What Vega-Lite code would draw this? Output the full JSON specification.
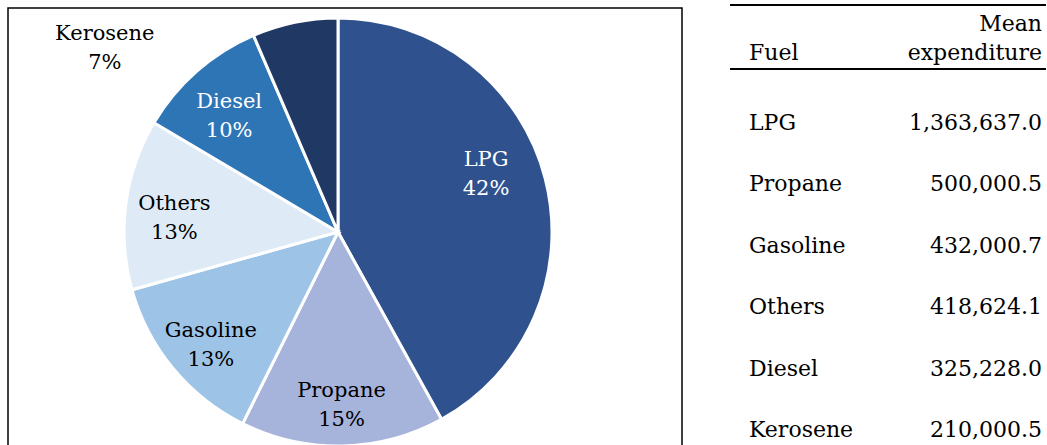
{
  "$schema": "https://vega.github.io/schema/vega-lite/v6.json",
  "usermeta": {"embedOptions": {"actions": false}},
  "padding": {"left": 7, "top": 4, "right": 0, "bottom": 0},
  "background": "white",
  "config": {
    "font": "DejaVu Serif",
    "view": {"stroke": null},
    "text": {"fontSize": 21, "font": "DejaVu Serif"}
  },
  "datasets": {
    "fuels": [
      {"fuel": "LPG", "expenditure": 1363637.0, "share": 42},
      {"fuel": "Propane", "expenditure": 500000.5, "share": 15},
      {"fuel": "Gasoline", "expenditure": 432000.7, "share": 13},
      {"fuel": "Others", "expenditure": 418624.1, "share": 13},
      {"fuel": "Diesel", "expenditure": 325228.0, "share": 10},
      {"fuel": "Kerosene", "expenditure": 210000.5, "share": 7}
    ]
  },
  "spacing": 46,
  "hconcat": [
    {
      "width": 674,
      "height": 448,
      "view": {"stroke": "black", "strokeWidth": 1.5},
      "data": {"name": "fuels"},
      "transform": [
        {"calculate": "datum.fuel + '\\n' + datum.share + '%'", "as": "label"}
      ],
      "encoding": {
        "theta": {"field": "expenditure", "type": "quantitative", "stack": true},
        "order": {"field": "expenditure", "type": "quantitative", "sort": "descending"}
      },
      "layer": [
        {
          "mark": {"type": "arc", "outerRadius": 214, "stroke": "white", "strokeWidth": 3, "xOffset": -7},
          "encoding": {
            "color": {
              "field": "fuel",
              "type": "nominal",
              "scale": {
                "domain": ["LPG", "Propane", "Gasoline", "Others", "Diesel", "Kerosene"],
                "range": ["#2F528F", "#A6B4DB", "#9DC3E6", "#DEEBF7", "#2E75B6", "#203864"]
              },
              "legend": null
            }
          }
        },
        {
          "mark": {"type": "text", "radius": 165, "lineBreak": "\n", "lineHeight": 29, "align": "center", "baseline": "middle", "xOffset": -7, "dy": -6},
          "encoding": {
            "text": {"condition": {"test": "datum.fuel == 'Kerosene' || datum.fuel == 'LPG'", "value": ""}, "field": "label"},
            "color": {"condition": {"test": "datum.fuel == 'Diesel'", "value": "white"}, "value": "black"}
          }
        },
        {
          "transform": [
            {"stack": "expenditure", "groupby": [], "sort": [{"field": "expenditure", "order": "descending"}], "as": ["k0", "k1"]},
            {"filter": "datum.fuel == 'LPG'"}
          ],
          "mark": {"type": "text", "radius": 159, "thetaOffset": 1.198, "lineBreak": "\n", "lineHeight": 29, "align": "center", "baseline": "middle", "xOffset": -7, "dy": -14.5, "color": "white"},
          "encoding": {
            "theta": {"field": "k0", "type": "quantitative", "stack": null},
            "text": {"field": "label"}
          }
        },
        {
          "transform": [
            {"stack": "expenditure", "groupby": [], "sort": [{"field": "expenditure", "order": "descending"}], "as": ["k0", "k1"]},
            {"filter": "datum.fuel == 'Kerosene'"}
          ],
          "mark": {"type": "text", "radius": 297, "thetaOffset": -0.497, "lineBreak": "\n", "lineHeight": 29, "align": "center", "baseline": "middle", "xOffset": -7, "dy": -14.5, "color": "black"},
          "encoding": {
            "theta": {"field": "k0", "type": "quantitative", "stack": null},
            "text": {"field": "label"}
          }
        }
      ]
    },
    {
      "width": 316,
      "height": 437,
      "data": {"name": "fuels"},
      "encoding": {
        "y": {
          "field": "fuel",
          "type": "nominal",
          "sort": null,
          "scale": {"type": "point", "padding": 0, "range": [115, 422], "domain": ["LPG", "Propane", "Gasoline", "Others", "Diesel", "Kerosene"]},
          "axis": null
        }
      },
      "layer": [
        {
          "mark": {"type": "text", "align": "left", "baseline": "middle", "dx": 19, "color": "black", "fontSize": 22},
          "encoding": {
            "x": {
              "datum": "Fuel",
              "type": "nominal",
              "scale": {"type": "point", "padding": 0, "domain": ["Fuel", "Mean expenditure"]},
              "axis": null
            },
            "text": {"field": "fuel"}
          }
        },
        {
          "mark": {"type": "text", "align": "right", "baseline": "middle", "dx": -4, "color": "black", "fontSize": 22},
          "encoding": {
            "x": {"datum": "Mean expenditure", "type": "nominal"},
            "text": {"field": "expenditure", "type": "quantitative", "format": ",.1f"}
          }
        },
        {
          "data": {"values": [{"header": "Fuel"}]},
          "mark": {"type": "text", "align": "left", "baseline": "middle", "dx": 19, "dy": -70, "color": "black", "fontSize": 22},
          "encoding": {
            "x": {"datum": "Fuel", "type": "nominal"},
            "y": {"datum": "LPG", "type": "nominal"},
            "text": {"field": "header"}
          }
        },
        {
          "data": {"values": [{"header": "Mean\nexpenditure"}]},
          "mark": {"type": "text", "align": "right", "baseline": "middle", "dx": -4, "dy": -99, "lineBreak": "\n", "lineHeight": 29, "color": "black", "fontSize": 22},
          "encoding": {
            "x": {"datum": "Mean expenditure", "type": "nominal"},
            "y": {"datum": "LPG", "type": "nominal"},
            "text": {"field": "header"}
          }
        },
        {
          "data": {"values": [{"rule": "header"}]},
          "mark": {"type": "rule", "color": "black", "strokeWidth": 2, "yOffset": -54},
          "encoding": {
            "y": {"datum": "LPG", "type": "nominal"}
          }
        },
        {
          "data": {"values": [{"rule": "top"}]},
          "mark": {"type": "rule", "color": "black", "strokeWidth": 2, "yOffset": -118},
          "encoding": {
            "y": {"datum": "LPG", "type": "nominal"}
          }
        }
      ]
    }
  ]
}
